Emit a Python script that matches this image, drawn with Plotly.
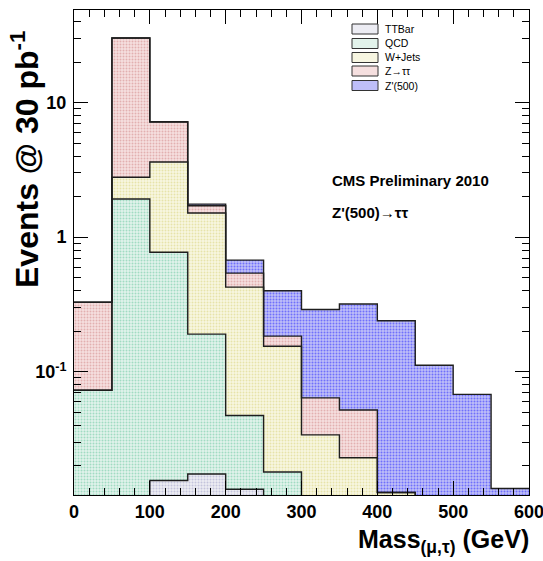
import numpy as np
import plotly.graph_objects as go

# Binning of the visible mass distribution (GeV)
bin_edges = [0, 50, 100, 150, 200, 250, 300, 350, 400, 450, 500, 550, 600]

# Expected events per bin for 30 pb^-1, per process (stack order: bottom -> top)
ttbar   = [0, 0, 0.0156, 0.0174, 0.0134, 0, 0, 0, 0, 0, 0, 0]
qcd     = [0.073, 1.92, 0.758, 0.173, 0.034, 0.018, 0, 0, 0, 0, 0, 0]
wjets   = [0, 0.87, 2.84, 1.32, 0.378, 0.137, 0.034, 0.023, 0.0127, 0, 0, 0]
ztautau = [0.256, 27.4, 3.55, 0.20, 0.115, 0.029, 0.030, 0.029, 0, 0, 0, 0]
zprime  = [0, 0, 0.04, 0.05, 0.135, 0.216, 0.226, 0.267, 0.227, 0.112, 0.068, 0.0136]

process_names = ["TTBar", "QCD", "W+Jets", "Z\u2192\u03c4\u03c4", "Z'(500)"]
process_values = [ttbar, qcd, wjets, ztautau, zprime]

# dotted ROOT-like fills: (background tint, dot colour)
fills = [
    ("#ececf3", "#9c9cc4"),
    ("#e2f3eb", "#5fc39c"),
    ("#f7f6e1", "#d6cf74"),
    ("#f5dfdf", "#d08282"),
    ("#bebef8", "#2020ff"),
]

x_title = "Mass<sub>(\u03bc,\u03c4)</sub> (GeV)"
y_title = "Events @ 30 pb<sup>-1</sup>"
x_tickvals = [0, 100, 200, 300, 400, 500, 600]
y_tickvals = [0.1, 1, 10]
y_ticktext = ["10<sup>-1</sup>", "1", "10"]
y_minor = [m * 10.0 ** d for d in (-2, -1, 0, 1) for m in range(2, 10)]

edges = np.array(bin_edges, dtype=float)
centers = 0.5 * (edges[:-1] + edges[1:])
widths = np.diff(edges)
stacked = np.cumsum(np.array(process_values, dtype=float), axis=0)

FONT = "Liberation Sans, Arial, sans-serif"

# plot-area geometry in pixels (for placing decorations)
W, H = 543, 561
L, R, T, B = 74, 14, 10, 66
PW, PH = W - L - R, H - T - B


def px(xp):
    return (xp - L) / PW


def py(yp):
    return (H - B - yp) / PH


fig = go.Figure()

# filled stack: draw the tallest level first so lower levels sit on top
for i in reversed(range(len(process_names))):
    bg, fg = fills[i]
    fig.add_trace(go.Bar(
        x=centers, y=stacked[i], width=widths,
        marker=dict(
            color=bg, line=dict(width=0),
            pattern=dict(shape=".", fgcolor=fg, bgcolor=bg, size=3, solidity=0.35),
        ),
        name=process_names[i], showlegend=False, hoverinfo="skip",
    ))

# histogram outlines (step contour of each stack level)
for i in range(len(process_names)):
    level = stacked[i]
    yy = np.where(level > 0, level, 1e-4)
    fig.add_trace(go.Scatter(
        x=edges, y=np.append(yy, yy[-1]), mode="lines",
        line=dict(color="#1e1e1e", width=1.4, shape="hv"),
        showlegend=False, hoverinfo="skip",
    ))

ymin, ymax = 0.01216, 48.7

fig.update_layout(
    width=W, height=H,
    margin=dict(l=L, r=R, t=T, b=B, pad=0, autoexpand=False),
    paper_bgcolor="white", plot_bgcolor="white",
    barmode="overlay", bargap=0,
    showlegend=False,
    font=dict(family=FONT, color="black"),
)

fig.update_xaxes(
    range=[0, 600], showgrid=False, zeroline=False, automargin=False,
    showline=True, linecolor="black", linewidth=1, mirror="allticks",
    ticks="inside", ticklen=14, tickcolor="black", tickwidth=1,
    tickvals=x_tickvals, ticklabeloverflow="allow",
    tickfont=dict(family=FONT, size=18, weight="bold"),
    minor=dict(ticks="inside", ticklen=7, dtick=20, tickcolor="black", showgrid=False),
)
fig.update_yaxes(
    type="log", range=[np.log10(ymin), np.log10(ymax)],
    showgrid=False, zeroline=False, automargin=False,
    showline=True, linecolor="black", linewidth=1, mirror="allticks",
    ticks="inside", ticklen=14, tickcolor="black", tickwidth=1,
    tickvals=y_tickvals, ticktext=y_ticktext, ticklabelstandoff=3,
    tickfont=dict(family=FONT, size=18, weight="bold"),
    minor=dict(ticks="inside", ticklen=7, tickmode="array", tickvals=y_minor,
               tickcolor="black", showgrid=False),
)

# axis titles, right/top aligned as in ROOT
fig.add_annotation(
    text=x_title, xref="paper", yref="paper", x=px(531), y=py(541),
    xanchor="right", yanchor="middle", showarrow=False,
    font=dict(family=FONT, size=25, weight="bold"),
)
fig.add_annotation(
    text=y_title, xref="paper", yref="paper", x=px(25), y=py(160),
    xanchor="center", yanchor="middle", textangle=-90, showarrow=False,
    font=dict(family=FONT, size=32, weight="bold"),
)

# labels inside the frame
fig.add_annotation(
    text="CMS Preliminary 2010", xref="paper", yref="paper", x=px(330), y=py(181),
    xanchor="left", yanchor="middle", showarrow=False,
    font=dict(family=FONT, size=15, weight="bold"),
)
fig.add_annotation(
    text="Z'(500)\u2192\u03c4\u03c4", xref="paper", yref="paper", x=px(330), y=py(213),
    xanchor="left", yanchor="middle", showarrow=False,
    font=dict(family=FONT, size=15, weight="bold"),
)

# legend box entries
row_y = [29, 43.5, 57.5, 71, 85.5]
for name, (bg, fg), yc in zip(process_names, fills, row_y):
    fig.add_shape(
        type="rect", xref="paper", yref="paper",
        x0=px(352), x1=px(378), y0=py(yc + 5), y1=py(yc - 5),
        fillcolor=bg, line=dict(color="#333333", width=1),
    )
    fig.add_annotation(
        text=name, xref="paper", yref="paper", x=px(383), y=py(yc),
        xanchor="left", yanchor="middle", showarrow=False,
        font=dict(family=FONT, size=10.5),
    )

fig.write_html("out.html")
